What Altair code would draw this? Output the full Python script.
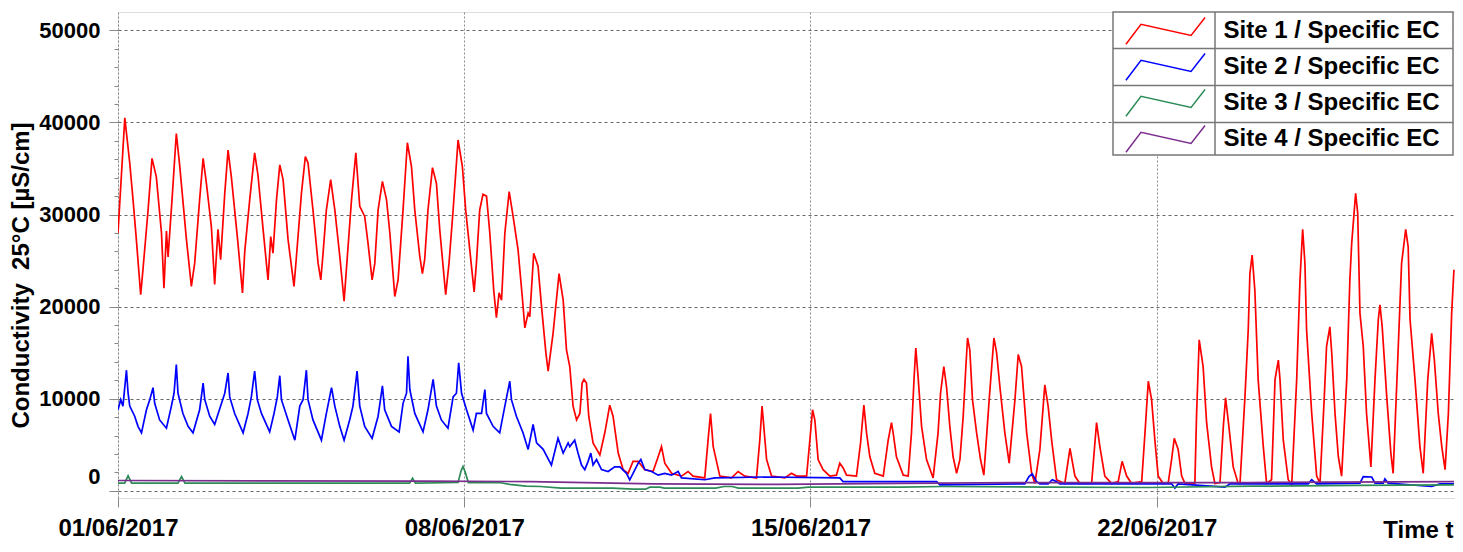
import altair as alt
import pandas as pd

# ---------------- data (hours after 01/06/2017 00:00, µS/cm) ----------------
series_names = ["Site 1 / Specific EC", "Site 2 / Specific EC",
                "Site 3 / Specific EC", "Site 4 / Specific EC"]
series_colors = ["#ff0000", "#0000ff", "#2e8b57", "#7b2d8e"]

red_hours = [0, 3.3, 5.7, 7.3, 8.9, 11.0, 12.1, 14.6, 16.5, 18.6, 21.1, 22.3, 23.5, 24.3, 26.2, 28.3, 29.9, 33.2, 35.6, 37.2,
             39.6, 41.3, 42.9, 45.3, 46.9, 48.5, 49.8, 51.8, 53.4, 55.0, 58.2, 60.4, 61.5, 63.9, 66.3, 67.9, 70.4, 72.8, 74.1, 75.2,
             76.9, 78.5, 80.1, 82.5, 85.4, 86.6, 89.0, 90.9, 92.2, 94.6, 97.1, 98.4, 99.5, 101.1, 103.2, 105.2, 107.6, 109.7,
             110.8, 113.3, 115.4, 117.3, 119.7, 121.3, 123.3, 124.6, 126.2, 128.3, 130.3, 131.9, 134.3, 135.9, 138.3, 140.4, 142.4,
             144.0, 146.4, 147.7, 148.8, 150.4, 152.6, 154.5, 156.1, 159.0, 160.6, 162.6, 165.0, 167.1, 168.7, 171.5, 172.8, 173.9,
             175.5, 177.1, 178.8, 180.4, 182.3, 183.6, 184.9, 186.1, 187.7, 189.8, 191.7, 194.1, 196.3, 197.4, 199.0, 199.8, 201.7,
             203.8, 205.5, 207.6, 208.7, 211.1, 214.0, 216.0, 217.6,
             219.2, 220.8, 222.5, 224.1, 225.2, 226.1, 227.3, 228.4, 230.5, 233.8, 236.2, 238.6, 240.2, 242.7, 245.1, 247.5, 249.9,
             252.4, 255.6, 259.6, 262.1, 263.7, 265.3, 268.6, 273.4, 276.6, 279.0, 284.7, 286.3, 287.5, 288.8, 292.0, 297.7, 300.9,
             304.1, 309.8, 311.4, 312.5, 314.7, 317.1, 323.5, 326.8,
             329.2, 334.1, 335.7, 337.0, 338.1, 339.7, 342.1, 345.4, 348.6, 350.2, 351.8, 353.5, 358.3, 360.3, 361.9, 363.2, 364.8,
             367.2, 371.3, 373.7, 375.3, 376.1, 377.7, 381.0, 383.4, 385.0, 386.3, 387.1, 388.2, 389.9, 392.3, 395.5, 397.9, 399.1,
             400.7, 402.0, 403.6, 405.2, 406.9, 408.5, 410.1, 411.4, 412.2, 413.3, 414.6, 416.6, 418.5, 420.1, 422.7, 425.0, 426.3,
             427.9, 430.3, 432.4, 435.2,
             436.8, 438.4, 440.9, 443.3, 444.9, 447.3, 449.7, 451.3, 453.0, 455.4, 459.4, 461.9, 464.3, 466.7, 472.4, 474.8, 476.4,
             478.8, 482.1, 485.3, 487.2, 489.4, 491.8, 496.7, 498.3, 499.9, 501.5, 503.1, 504.7, 507.1, 509.6, 511.2, 512.5, 514.4,
             516.1, 517.7, 522.5, 523.3, 524.6, 526.5, 528.2, 530.6, 532.2, 534.7, 536.3, 537.4, 539.0, 541.1, 543.5,
             544.4, 546.8, 548.4, 549.2, 550.3, 551.6, 553.2, 555.7, 557.3, 559.7, 561.4, 563.0, 563.8, 565.4, 567.8, 569.5, 571.9,
             573.5, 574.8, 575.9, 576.7, 579.2, 581.6, 583.2, 585.3, 586.4, 588.0, 588.9, 590.5, 592.1, 593.7, 596.2, 597.7, 598.6,
             600.5, 601.5, 602.6, 604.2, 605.8, 607.9, 609.9, 611.5, 612.3, 613.4, 615.6, 617.6, 618.7, 621.2, 622.8, 624.8, 626.0,
             626.9, 629.3, 631.7, 633.3, 635.5, 637.4, 638.7, 640.6, 642.3, 643.9, 645.5, 647.1, 648.2]
red_values = [28000, 40500, 35600, 31600, 27300, 21300, 24000, 30500, 36100, 34100, 28000, 22000, 28200, 25400, 31600, 38800, 35400, 27300, 22200, 24700,
              31600, 36100, 33400, 28700, 22400, 28400, 25100, 32300, 37000, 34100, 26900, 21500, 26000, 31600, 36700, 34300, 28400, 22900, 27600, 25800,
              31600, 35400, 33800, 27300, 22200, 25500, 32300, 36300, 35600, 30500, 24700, 22900, 25800, 30500, 33800, 30500, 25500, 20600,
              24000, 31600, 36700, 30900, 29800, 26900, 22900, 24700, 30500, 33600, 31600, 28000, 21100, 22900, 30500, 37800, 35200,
              30500, 25500, 23600, 25100, 30500, 35100, 33400, 28400, 21300, 24700, 30500, 38100, 35200, 30500, 24400, 21600, 24700,
              30500, 32200, 32000, 28000, 21800, 18800, 21500, 20700, 28000, 32500, 29800, 26200, 20700, 17700, 19300, 18900, 25800,
              24400, 20000, 15000, 13000, 17100, 23600, 20700, 15300,
              13500, 9200, 7700, 8400, 11700, 12100, 11700, 8100, 5200, 3900, 6300, 9300, 8100, 4100, 2300, 1900, 3200,
              3200, 2300, 2100, 3700, 4800, 3000, 1900, 1600, 2100, 1600, 1400, 5500, 8400, 4800, 1600, 1400, 2100,
              1600, 1400, 5500, 9200, 3400, 1600, 1400, 1900,
              1600, 1600, 5500, 8800, 7700, 3400, 2300, 1600, 1700, 3000, 2500, 1700, 1600, 5200, 9300, 6300, 3700,
              1900, 1600, 5500, 7400, 6300, 3700, 1700, 1600, 6300, 12400, 15500, 12400, 7000, 3400, 1400, 6300, 10600,
              13500, 11300, 7000, 3700, 1900, 3400, 8100, 13500, 16600, 15300, 9900, 6300, 3400, 1700, 9900, 16600, 15000,
              11300, 6300, 3000, 9900,
              14800, 13500, 6300, 1900, 800, 4500, 11500, 9200, 5500, 1200, 800, 4600, 1600, 800, 800, 7400, 4800,
              1600, 800, 1000, 3200, 1600, 800, 1000, 6300, 11900, 9900, 5500, 1600, 800, 900, 3400, 5700, 4500,
              1600, 800, 800, 8100, 16400, 13500, 7400, 2600, 800, 900, 7000, 10100, 7000, 2600, 800,
              800, 10200, 17500, 23600, 25600, 21800, 12100, 4800, 800, 1200, 12100, 14200, 12100, 5500, 1200, 700, 12100,
              22900, 28400, 24700, 17500, 8400, 1600, 800, 10200, 15700, 17800, 15000, 8400, 3700, 1600, 12100, 22900, 26900,
              32300, 30200, 19300, 15700, 8400, 2600, 12100, 18600, 20200, 17800, 10200, 4100, 1900, 15700, 24700, 28400, 26500,
              18600, 12100, 4800, 1900, 12100, 17100, 14200, 8400, 4800, 2300, 8400, 19300, 24000]

blue_hours = [0, 1.3, 2.4, 4.1, 4.9, 5.7, 8.1, 9.7, 11.4, 13.8, 15.4, 17.0, 17.8, 20.2, 23.5, 25.9, 27.2, 28.3, 29.1, 31.5,
              34.0, 36.4, 39.6, 41.3, 42.1, 44.5, 46.9, 49.8, 51.8, 53.4, 54.2, 56.6, 60.7, 63.1, 64.7, 66.3, 67.6, 69.6, 73.6,
              75.7, 77.3, 78.5, 79.3, 82.5, 85.8, 88.2, 89.8, 91.4, 92.2, 94.6, 98.7, 101.1, 103.6, 105.2, 107.6, 109.7,
              112.4, 114.0, 116.0, 117.3, 119.7, 123.3, 126.2, 128.3, 129.4, 132.7, 136.4, 138.3, 140.0, 140.7, 141.6, 144.0,
              148.0, 150.4, 152.9, 154.5, 156.9, 160.1, 162.6, 164.2, 165.3, 166.7, 169.1, 172.3, 173.9, 176.4, 178.0, 178.8,
              182.0, 185.2, 187.7, 190.1, 190.9, 193.3, 196.5, 199.0, 201.4, 203.1, 206.3, 210.3, 213.5, 216.0, 218.4,
              219.2, 221.6, 223.2, 224.9, 226.5, 228.1, 229.4, 230.5, 232.2, 234.6, 237.8, 241.0, 243.5, 246.7, 248.3, 249.9,
              252.4, 253.7, 255.6, 258.9, 262.1, 265.3, 268.6, 271.8, 273.4, 284.7, 289.6, 313.8, 350.2, 351.8, 397.2, 398.8,
              440.0, 442.0, 443.6, 445.7, 447.3, 451.3, 453.3, 455.4, 457.0, 511.2, 512.8, 514.4, 537.1, 539.5, 577.5, 579.2,
              581.6, 602.6, 604.2, 608.3, 609.9, 613.9, 614.7, 616.3, 637.4, 641.4, 648.2]
blue_values = [8800, 9900, 9200, 13100, 10600, 9200, 8100, 7000, 6300, 8800, 9900, 11200, 9500, 7700, 6800, 9200, 10600, 13700, 10600, 8400,
               7000, 6300, 8800, 11700, 9900, 8100, 7200, 9200, 10600, 12800, 10200, 8400, 6300, 8400, 10200, 13000, 9900, 8400, 6400,
               8400, 10200, 12500, 9900, 7700, 5500, 9200, 9900, 13100, 9900, 7700, 5500, 8400, 11200, 9200, 7000, 5500,
               7700, 9200, 13000, 9200, 7000, 5700, 8100, 11400, 8800, 7000, 6400, 9500, 10600, 14600, 11000, 8400,
               6400, 8800, 12100, 9200, 7700, 6800, 10200, 10600, 13900, 10600, 8800, 6600, 8400, 8400, 11000, 8400,
               7000, 6300, 9200, 11900, 9900, 8100, 6300, 4500, 7200, 5200, 4500, 2800, 5700, 4100, 5200,
               4800, 5500, 4100, 2800, 2300, 3200, 4100, 2800, 3400, 2300, 2100, 2600, 2600, 1900, 1200, 1900,
               3000, 3400, 2300, 2100, 1700, 1900, 1700, 2100, 1400, 1200, 1400, 1500, 1400, 1000, 1000, 650,
               760, 1550, 1850, 1000, 760, 760, 1200, 1000, 760, 760, 300, 760, 400, 760, 760, 1200,
               760, 840, 1550, 1500, 840, 840, 1300, 840, 470, 760, 760]

green_hours = [0, 3.2, 4.9, 6.6, 29.1, 30.8, 32.5, 141.5, 142.9, 144.3, 165.0, 166.5, 167.4, 168.5, 170.0, 185.0, 190.0,
               198.0, 205.0, 215.0, 240.0, 250.0, 256.0, 258.0, 263.0, 265.0, 290.0, 294.0, 298.0, 301.0, 330.0, 335.0,
               380.0, 400.0, 450.0, 500.0, 550.0, 600.0, 648.2]
green_values = [840, 840, 1630, 840, 840, 1550, 840, 840, 1380, 840, 900, 2200, 2640, 2000, 900, 900, 700,
                500, 470, 300, 290, 180, 180, 400, 400, 290, 290, 470, 470, 290, 290, 400,
                400, 470, 400, 360, 500, 600, 650]

purple_hours = [0, 150, 200, 260, 320, 380, 450, 550, 648.2]
purple_values = [1120, 1050, 1000, 750, 700, 800, 900, 900, 1000]

x_tick_days = [1, 8, 15, 22]
y_tick_values = list(range(0, 50001, 2000))

# ---------------- build table ----------------
start = pd.Timestamp("2017-06-01 00:00:00")
frames = []
for name, hrs, vals in zip(series_names,
                           [red_hours, blue_hours, green_hours, purple_hours],
                           [red_values, blue_values, green_values, purple_values]):
    frames.append(pd.DataFrame({
        "time": [(start + pd.Timedelta(hours=h)).strftime("%Y-%m-%dT%H:%M:%S") for h in hrs],
        "value": vals,
        "series": name,
    }))
df = pd.concat(frames, ignore_index=True)
df["order"] = range(len(df))

FONT = "Liberation Sans"
major = "datum.value % 10000 === 0"

legend_path = "M-2.26,0.76L-1.4,-0.38L1.46,0.25L2.26,-0.77"

lines = alt.Chart(df).mark_line(strokeWidth=1.7, clip=True).encode(
    x=alt.X("time:T",
            scale=alt.Scale(domain=[alt.DateTime(year=2017, month=6, date=1),
                                    alt.DateTime(year=2017, month=6, date=28, hours=0, minutes=43)],
                            nice=False),
            axis=alt.Axis(values=[alt.DateTime(year=2017, month=6, date=d) for d in x_tick_days],
                          format="%d/%m/%Y", title="Time t",
                          labelFlush=False, labelFontSize=24, labelFontWeight="bold",
                          labelColor="black", labelPadding=9, labelBaseline="top",
                          tickSize=9, tickColor="#888", tickWidth=1,
                          grid=True, gridColor="#888", gridDash=[2, 2], gridWidth=1,
                          domain=False,
                          titleFontSize=24, titleFontWeight="bold", titleColor="black",
                          titleX=1335, titleY=39, titleAlign="right", titleBaseline="alphabetic")),
    y=alt.Y("value:Q",
            scale=alt.Scale(domain=[-780, 52000], nice=False, zero=False),
            axis=alt.Axis(values=y_tick_values, format="d",
                          labelExpr=f"{major} ? datum.label : ''",
                          labelFontSize=22, labelFontWeight="bold", labelColor="black",
                          labelPadding=9,
                          labelOffset={"condition": {"test": "datum.value === 0", "value": -14}, "value": 0},
                          tickSize={"condition": {"test": major, "value": 9}, "value": 4},
                          tickColor="#888", tickWidth=1,
                          grid=True, gridColor="#666", gridDash=[3, 3], gridWidth=1,
                          gridOpacity={"condition": {"test": major, "value": 1}, "value": 0},
                          domain=False,
                          title="Conductivity\u00a0 25°C [µS/cm]",
                          titleFontSize=24, titleFontWeight="bold", titleColor="black",
                          titleX=-97, titleY=263, titleAngle=270,
                          titleAlign="center", titleBaseline="middle")),
    color=alt.Color("series:N",
                    scale=alt.Scale(domain=series_names, range=series_colors),
                    legend=alt.Legend(title=None, orient="none", legendX=995, legendY=0,
                                      symbolType=legend_path, symbolSize=1225,
                                      symbolStrokeWidth=1.5, symbolFillColor="transparent",
                                      symbolOffset=33.5, labelOffset=39.5,
                                      labelFontSize=24, labelFontWeight="bold",
                                      labelColor="black", labelLimit=400,
                                      rowPadding=1, padding=0.5)),
    order=alt.Order("order:Q"),
)

one = pd.DataFrame({"k": [0]})
legend_box = alt.Chart(one).mark_rect(fill="white", stroke="#777", strokeWidth=1.5).encode(
    x=alt.value(995), x2=alt.value(1335), y=alt.value(0), y2=alt.value(143))
dividers = []
for yy in (36.5, 73.5, 110.5):
    dividers.append(alt.Chart(one).mark_rule(color="#777", strokeWidth=1.5).encode(
        x=alt.value(995), x2=alt.value(1335), y=alt.value(yy)))
dividers.append(alt.Chart(one).mark_rule(color="#777", strokeWidth=1.5).encode(
    x=alt.value(1097), y=alt.value(0), y2=alt.value(143)))

chart = alt.layer(lines, legend_box, *dividers).properties(
    width=1337, height=486,
    padding={"left": 110, "top": 4, "right": 0, "bottom": 52},
    autosize=alt.AutoSizeParams(type="none"),
).configure_view(stroke="#8c8c8c", strokeWidth=2).configure(font=FONT).configure_axis(
    labelFont=FONT, titleFont=FONT).configure_legend(labelFont=FONT)

chart.save("out.html", embed_options={"renderer": "svg", "actions": False})
